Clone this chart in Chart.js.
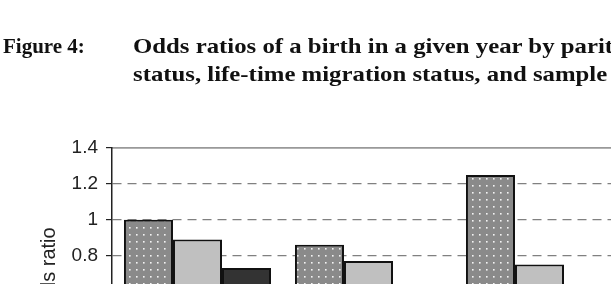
<!DOCTYPE html>
<html>
<head>
<meta charset="utf-8">
<script src="https://cdn.jsdelivr.net/npm/chart.js@4.4.0/dist/chart.umd.min.js"></script>
<style>
  html, body { margin: 0; padding: 0; overflow: hidden; background: #fff; width: 611px; height: 284px; }
  .cap { position: absolute; font-family: "Liberation Serif", "Times New Roman", serif; font-weight: bold;
         font-size: 21px; line-height: 28px; color: #111; white-space: nowrap; }
  .wide { transform: scaleX(1.18); transform-origin: 0 0; }
  #chart { position: absolute; left: 0; top: 0; }
</style>
</head>
<body>
<canvas id="chart" width="640" height="420"></canvas>
<div class="cap" style="left:3px; top:32px;">Figure 4:</div>
<div class="cap wide" style="left:133px; top:32px;">Odds ratios of a birth in a given year by parity,<br>status, life-time migration status, and sample</div>
<script>
// groups along the x axis (their labels are below the visible crop)
var groups = ['', '', '']
// three series per group
var series1 = [1.00, 0.86, 1.25]
var series2 = [0.89, 0.77, 0.75]
var series3 = [0.73, 0.55, 0.55]
var yTicks = [0, 0.2, 0.4, 0.6, 0.8, 1, 1.2, 1.4]

// dotted grey fill for the first series
function dots() {
    var c = document.createElement('canvas')
    c.width = 7; c.height = 7
    var g = c.getContext('2d')
    g.fillStyle = '#8a8a8a'
    g.fillRect(0, 0, 7, 7)
    g.fillStyle = 'rgba(255,255,255,0.9)'
    g.fillRect(3, 3, 1.6, 1.6)
    return g.createPattern(c, 'repeat')
}

var ctx = document.getElementById('chart').getContext('2d')
var chart = new Chart(ctx, {
    type: 'bar',
    data: {
        labels: groups,
        datasets: [
            {data: series1, backgroundColor: dots(), borderColor: '#111', borderWidth: 2},
            {data: series2, backgroundColor: '#c0c0c0', borderColor: '#111', borderWidth: 2},
            {data: series3, backgroundColor: '#333333', borderColor: '#111', borderWidth: 2},
        ]
    },
    options: {
        responsive: false,
        animation: false,
        layout: {padding: {left: 0, top: 148, right: 15, bottom: 21}},
        plugins: {legend: {display: false}, tooltip: {enabled: false}},
        datasets: {bar: {barPercentage: 1, categoryPercentage: 0.86}},
        scales: {
            x: {
                ticks: {display: false},
                grid: {display: false, drawTicks: false},
                border: {color: '#222', width: 1.5}
            },
            x2: {
                position: 'top',
                labels: groups,
                ticks: {display: false},
                grid: {display: false, drawTicks: false},
                border: {color: '#999', width: 1.8}
            },
            y: {
                min: 0,
                max: 1.4,
                afterBuildTicks: function (axis) {
                    axis.ticks = yTicks.map(function (v) { return {value: v} })
                },
                afterFit: function (axis) { axis.width = 112 },
                ticks: {
                    color: '#222',
                    padding: 8,
                    font: {family: 'Liberation Sans', size: 19},
                    callback: function (v) { return String(+v.toFixed(1)) }
                },
                grid: {
                    color: function (c) { return c.tick && c.tick.value > 1.3 ? 'rgba(0,0,0,0)' : '#808080' },
                    tickColor: '#222',
                    tickLength: 6,
                    lineWidth: 1.2
                },
                border: {color: '#222', width: 1.5, dash: [9, 6]},
                title: {
                    display: true,
                    text: 'Odds ratio',
                    color: '#222',
                    font: {family: 'Liberation Sans', size: 20},
                    padding: {top: 37, bottom: 0}
                }
            }
        }
    }
});
</script>
</body>
</html>
